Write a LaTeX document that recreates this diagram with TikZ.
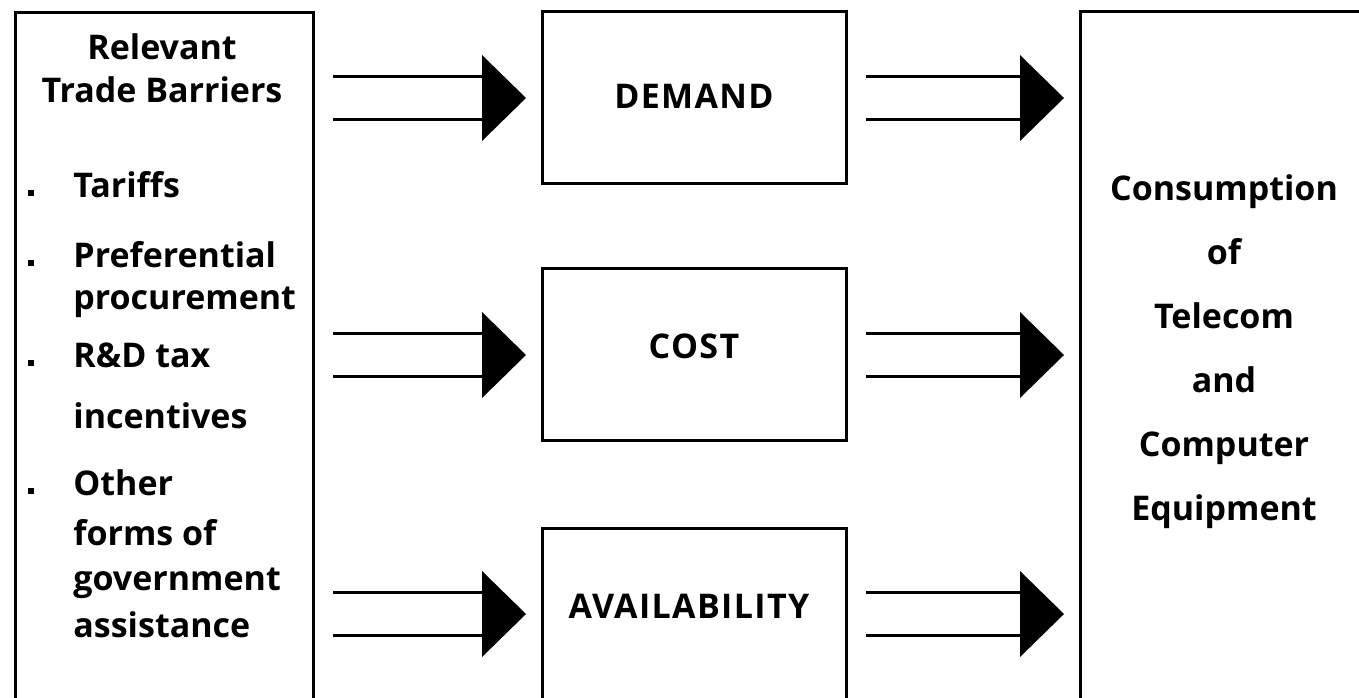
\documentclass[tikz,border=0pt]{standalone}
\usepackage{fontspec}
\setmainfont{Open Sans}
\usetikzlibrary{calc}

% two parallel shafts ending in one solid triangular head
\newcommand\flowpair[3]{%
  \coordinate (fy) at (0,#3);
  \coordinate (fs) at ($(#1.east |- fy) + (20,0)$);
  \coordinate (ft) at ($(#2.west |- fy) + (-16,0)$);
  \draw[flowline] ($(fs)+(0,-21.5)$) -- ($(ft)+(-44,-21.5)$);
  \draw[flowline] ($(fs)+(0,21.5)$) -- ($(ft)+(-44,21.5)$);
  \fill ($(ft)+(-44,-43)$) -- (ft) -- ($(ft)+(-44,43)$) -- cycle;
}

\begin{document}
\begin{tikzpicture}[x=0.5pt,y=-0.5pt,
  box/.style={draw, line width=1.5pt, inner sep=0pt, outer sep=0pt, anchor=north west},
  flowline/.style={line width=1.5pt},
  lbl/.style={font=\bfseries\fontsize{17}{17}\selectfont, inner sep=0pt, anchor=base},
  caps/.style={lbl, font=\bfseries\fontsize{17}{17}\selectfont\addfontfeatures{LetterSpace=4}},
  item/.style={lbl, anchor=base west},
  dot/.style={fill=black, inner sep=0pt, minimum size=3pt, rectangle}]
\clip (0,0) rectangle (1359,697);
\fill[white] (0,0) rectangle (1359,697);

% boxes
\node[box, minimum width=149pt, minimum height=364pt] (barriers) at (15,12) {};
\node[box, minimum width=152pt, minimum height=86pt] (demand) at (542,11) {};
\node[box, minimum width=152pt, minimum height=86pt] (cost) at (542,268) {};
\node[box, minimum width=152pt, minimum height=110pt] (avail) at (542,528) {};
\node[box, minimum width=160pt, minimum height=364pt] (consumption) at (1080,11) {};

% left column
\node[lbl] (rel) at (162,59) {Relevant};
\node[lbl] (tb) at (162,102) {Trade Barriers};

\node[dot] (b1) at (31,193) {};
\node[item] (i1) at (73,197) {Tariffs};
\node[dot] (b2) at (31,263) {};
\node[item] (i2a) at (73,267) {Preferential};
\node[item] (i2b) at (73,309) {procurement};
\node[dot] (b3) at (31,363) {};
\node[item] (i3a) at (73,367) {R\&D tax};
\node[item] (i3b) at (73,428) {incentives};
\node[dot] (b4) at (31,491) {};
\node[item] (i4a) at (73,495) {Other};
\node[item] (i4b) at (73,545) {forms of};
\node[item] (i4c) at (73,590) {government};
\node[item] (i4d) at (73,637) {assistance};

% middle column
\node[caps] (demandtxt) at (694,108) {DEMAND};
\node[caps] (costtxt) at (694,358) {COST};
\node[caps] (availtxt) at (689,618) {AVAILABILITY};

% right column
\node[lbl] (c1) at (1224,200) {Consumption};
\node[lbl] (c2) at (1224,264) {of};
\node[lbl] (c3) at (1224,328) {Telecom};
\node[lbl] (c4) at (1224,392) {and};
\node[lbl] (c5) at (1224,456) {Computer};
\node[lbl] (c6) at (1224,520) {Equipment};

% flows
\flowpair{barriers}{demand}{98}
\flowpair{barriers}{cost}{355}
\flowpair{barriers}{avail}{614}
\flowpair{demand}{consumption}{98}
\flowpair{cost}{consumption}{355}
\flowpair{avail}{consumption}{614}
\end{tikzpicture}
\end{document}
